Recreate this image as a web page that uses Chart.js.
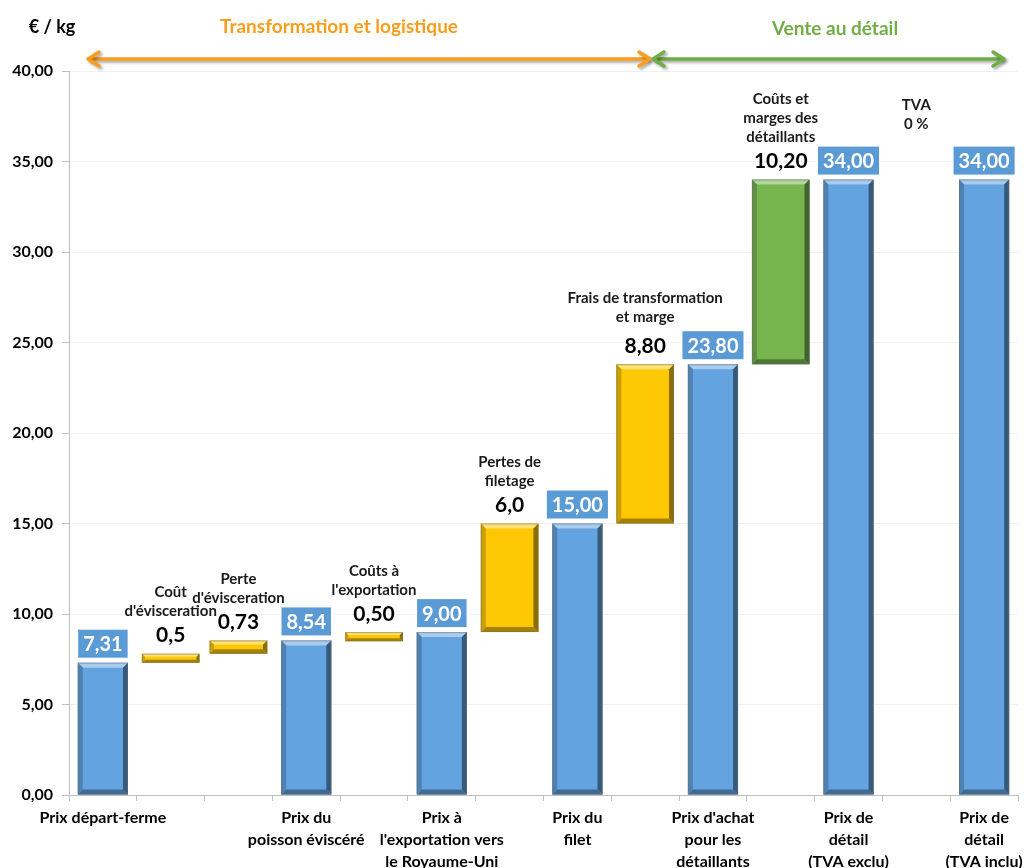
<!DOCTYPE html>
<html>
<head>
<meta charset="utf-8">
<script src="https://cdn.jsdelivr.net/npm/chart.js@4/dist/chart.umd.min.js"></script>
<style>
  html, body { margin: 0; padding: 0; background: #ffffff; }
  #wrap { width: 1024px; height: 868px; position: relative; }
</style>
</head>
<body>
<div id="wrap"><canvas id="c"></canvas></div>
<script>
// ---------- DATA ----------
const categories = [
  ["Prix départ-ferme"], "", "",
  ["Prix du", "poisson éviscéré"], "",
  ["Prix à", "l'exportation vers", "le Royaume-Uni"], "",
  ["Prix du", "filet"], "",
  ["Prix d'achat", "pour les", "détaillants"], "",
  ["Prix de", "détail", "(TVA exclu)"], "",
  ["Prix de", "détail", "(TVA inclu)"]
];
const priceTotals = [7.31, null, null, 8.54, null, 9.00, null, 15.00, null, 23.80, null, 34.00, null, 34.00];
const priceLabels = ["7,31", "", "", "8,54", "", "9,00", "", "15,00", "", "23,80", "", "34,00", "", "34,00"];
const stepLow  = [null, 7.31, 7.81, null, 8.50, null, 9.00, null, 15.00, null, 23.80, null, null, null];
const stepHigh = [null, 7.81, 8.54, null, 9.00, null, 15.00, null, 23.80, null, 34.00, null, null, null];
const stepValueLabels = ["", "0,5", "0,73", "", "0,50", "", "6,0", "", "8,80", "", "10,20", "", "", ""];
const stepNames = [null, ["Coût", "d'\u00e9visceration"], ["Perte", "d'\u00e9visceration"], null,
  ["Coûts à", "l'exportation"], null, ["Pertes de", "filetage"], null,
  ["Frais de transformation", "et marge"], null, ["Coûts et", "marges des", "détaillants"], null,
  ["TVA", "0 %"], null];
const stepStage = ["", "transformation", "transformation", "", "transformation", "", "transformation", "",
  "transformation", "", "retail", "", "retail", ""];
const sectionTitles = ["Transformation et logistique", "Vente au détail"];
const unitLabel = "€ / kg";
const yMin = 0, yMax = 40, yStep = 5;

// ---------- STYLE ----------
const FONT = "Lato, 'Open Sans', 'DejaVu Sans', sans-serif";
const BLUE = '#62a3e0';
const YELLOW = '#ffc805';
const GREEN = '#77b550';
const ORANGE = '#f99d1c';
const GREEN_TXT = '#70ad47';
const stageColor = s => s === 'retail' ? GREEN : YELLOW;

const stepData = stepLow.map((l, i) => l === null ? null : [l, stepHigh[i]]);
const fmt = v => v.toFixed(2).replace('.', ',');

function shade(hex, amt) {
  const n = parseInt(hex.slice(1), 16);
  let r = (n >> 16) & 255, g = (n >> 8) & 255, b = n & 255;
  const f = c => Math.max(0, Math.min(255, Math.round(amt < 0 ? c * (1 + amt) : c + (255 - c) * amt)));
  return `rgb(${f(r)},${f(g)},${f(b)})`;
}

const bevelPlugin = {
  id: 'bevel',
  afterDatasetsDraw(chart) {
    const ctx = chart.ctx;
    chart.data.datasets.forEach((ds, di) => {
      const meta = chart.getDatasetMeta(di);
      meta.data.forEach((el, i) => {
        const raw = ds.data[i];
        if (raw === null || raw === undefined) return;
        const p = el.getProps(['x', 'y', 'base', 'width'], true);
        const left = p.x - p.width / 2, right = p.x + p.width / 2;
        const top = Math.min(p.y, p.base), bottom = Math.max(p.y, p.base);
        const h = bottom - top;
        const base = di === 0 ? BLUE : stageColor(stepStage[i]);
        const b = Math.min(5, h / 3);
        ctx.save();
        ctx.fillStyle = shade(base, 0.45);
        ctx.beginPath();
        ctx.moveTo(left, top); ctx.lineTo(right, top); ctx.lineTo(right - b, top + b); ctx.lineTo(left + b, top + b);
        ctx.closePath(); ctx.fill();
        ctx.fillStyle = shade(base, -0.45);
        ctx.beginPath();
        ctx.moveTo(right, top); ctx.lineTo(right, bottom); ctx.lineTo(right - b, bottom - b); ctx.lineTo(right - b, top + b);
        ctx.closePath(); ctx.fill();
        ctx.fillStyle = shade(base, -0.35);
        ctx.beginPath();
        ctx.moveTo(left, bottom); ctx.lineTo(right, bottom); ctx.lineTo(right - b, bottom - b); ctx.lineTo(left + b, bottom - b);
        ctx.closePath(); ctx.fill();
        ctx.fillStyle = shade(base, -0.2);
        ctx.beginPath();
        ctx.moveTo(left, top); ctx.lineTo(left + b, top + b); ctx.lineTo(left + b, bottom - b); ctx.lineTo(left, bottom);
        ctx.closePath(); ctx.fill();
        ctx.strokeStyle = 'rgba(110,110,110,0.55)';
        ctx.lineWidth = 1;
        ctx.strokeRect(left + 0.5, top + 0.5, p.width - 1, h - 1);
        ctx.restore();
      });
    });
  }
};

const labelPlugin = {
  id: 'labels',
  afterDatasetsDraw(chart) {
    const ctx = chart.ctx;
    const ys = chart.scales.y;
    ctx.save();
    ctx.textAlign = 'center';
    ctx.textBaseline = 'middle';
    const m0 = chart.getDatasetMeta(0);
    m0.data.forEach((el, i) => {
      if (priceTotals[i] === null) return;
      const x = el.x, top = ys.getPixelForValue(priceTotals[i]);
      ctx.font = `bold 20px ${FONT}`;
      const w = ctx.measureText(priceLabels[i]).width + 10;
      const hgt = 28, bottom = top - 5;
      ctx.fillStyle = '#ffffff';
      ctx.fillRect(x - w / 2 - 2, bottom - hgt - 2, w + 4, hgt + 4);
      ctx.fillStyle = '#5b9bd5';
      ctx.fillRect(x - w / 2, bottom - hgt, w, hgt);
      ctx.fillStyle = '#ffffff';
      ctx.fillText(priceLabels[i], x, bottom - hgt / 2 + 1);
    });
    const xs = chart.scales.x;
    stepNames.forEach((names, i) => {
      if (!names) return;
      const x = xs.getPixelForValue(i);
      let valueY;
      if (stepHigh[i] !== null) {
        valueY = ys.getPixelForValue(stepHigh[i]) - 18;
        ctx.font = `bold 21px ${FONT}`;
        ctx.fillStyle = '#000000';
        ctx.fillText(stepValueLabels[i], x, valueY);
      } else {
        valueY = ys.getPixelForValue(priceTotals[i - 1]) - 31;
      }
      ctx.font = `bold 15px ${FONT}`;
      ctx.fillStyle = '#1a1a1a';
      const extra = (i === 8) ? 5 : 0;
      names.forEach((line, k) => {
        const yy = valueY - 24 - extra - (names.length - 1 - k) * 19;
        ctx.fillText(line, x, yy);
      });
    });
    ctx.restore();
  },
  afterDraw(chart) {
    const ctx = chart.ctx;
    const area = chart.chartArea;
    ctx.save();
    ctx.textAlign = 'center';
    ctx.textBaseline = 'middle';
    ctx.font = `bold 18px ${FONT}`;
    ctx.fillStyle = '#000000';
    ctx.fillText(unitLabel, 52, 27);
    const leftX = 88;
    const midX = 651;
    const rightX = 1004;
    const ay = 59;
    function arrow(x1, x2, color) {
      ctx.save();
      ctx.shadowColor = 'rgba(0,0,0,0.35)';
      ctx.shadowOffsetX = 2; ctx.shadowOffsetY = 2; ctx.shadowBlur = 3;
      ctx.strokeStyle = color; ctx.lineWidth = 3.5; ctx.lineCap = 'round'; ctx.lineJoin = 'round';
      ctx.beginPath(); ctx.moveTo(x1 + 2, ay); ctx.lineTo(x2 - 2, ay); ctx.stroke();
      ctx.beginPath(); ctx.moveTo(x1 + 11, ay - 7); ctx.lineTo(x1, ay); ctx.lineTo(x1 + 11, ay + 7); ctx.stroke();
      ctx.beginPath(); ctx.moveTo(x2 - 11, ay - 7); ctx.lineTo(x2, ay); ctx.lineTo(x2 - 11, ay + 7); ctx.stroke();
      ctx.restore();
    }
    arrow(leftX, midX - 1, ORANGE);
    arrow(midX + 2, rightX, GREEN_TXT);
    ctx.font = `bold 19px ${FONT}`;
    ctx.fillStyle = ORANGE;
    ctx.fillText(sectionTitles[0], 339, 27);
    ctx.fillStyle = GREEN_TXT;
    ctx.fillText(sectionTitles[1], 835, 29);
    ctx.restore();
  }
};

new Chart(document.getElementById('c'), {
  type: 'bar',
  data: {
    labels: categories,
    datasets: [
      {
        label: 'Prix',
        data: priceTotals,
        backgroundColor: BLUE,
        barPercentage: 0.74,
        categoryPercentage: 1,
        grouped: false,
        borderWidth: 0
      },
      {
        label: 'Étapes',
        data: stepData,
        backgroundColor: stepStage.map(s => stageColor(s)),
        barPercentage: 0.85,
        categoryPercentage: 1,
        grouped: false,
        borderWidth: 0
      }
    ]
  },
  options: {
    responsive: true,
    maintainAspectRatio: false,
    animation: false,
    layout: { padding: { top: 71, right: 6, left: 0, bottom: 0 } },
    plugins: { legend: { display: false }, tooltip: { enabled: false } },
    scales: {
      x: {
        offset: true,
        grid: { display: true, drawOnChartArea: false, offset: true, color: '#bfbfbf', tickLength: 6 },
        border: { color: '#bfbfbf', width: 1 },
        ticks: {
          autoSkip: false, maxRotation: 0, minRotation: 0, padding: 6,
          color: '#000000',
          font: { family: FONT, size: 16, weight: 'bold', lineHeight: 1.36 }
        },
        afterFit(scale) { scale.height = 73; scale.paddingLeft = 0; scale.paddingRight = 0; }
      },
      y: {
        min: yMin, max: yMax,
        grid: { color: '#f0f0f0', tickColor: '#bfbfbf', tickLength: 7 },
        border: { color: '#bfbfbf', width: 1 },
        ticks: {
          stepSize: yStep, padding: 9, color: '#000000',
          font: { family: FONT, size: 16, weight: 'bold' },
          callback: v => fmt(v)
        },
        afterFit(scale) { scale.width = 69; }
      }
    }
  },
  plugins: [bevelPlugin, labelPlugin]
});
</script>
</body>
</html>
